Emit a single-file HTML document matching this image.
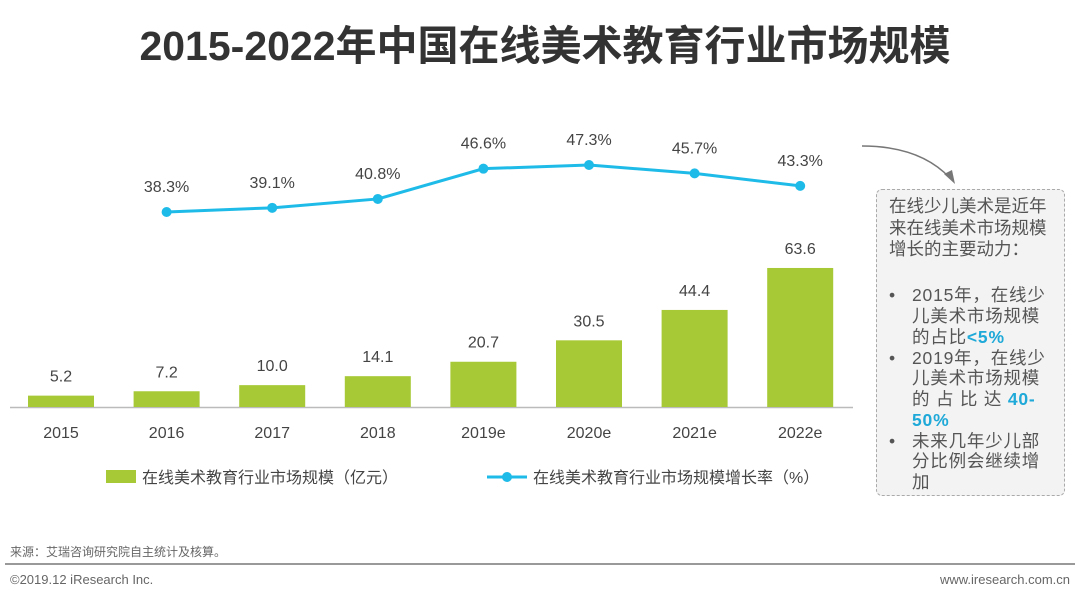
<!DOCTYPE html>
<html><head><meta charset="utf-8"><style>
body{margin:0;width:1080px;height:600px;background:#fff;font-family:"Liberation Sans","Noto Sans CJK SC",sans-serif;position:relative;overflow:hidden}
.t{position:absolute}
.row{display:flex;white-space:nowrap;line-height:20.8px;letter-spacing:0.8px}
.row span:first-child{width:23px}
</style></head><body>
<div class="t" style="left:0;width:1090px;top:12px;text-align:center;font-size:41px;font-weight:bold;color:#333;font-family:'Liberation Sans','Noto Sans CJK SC',sans-serif">2015-2022年中国在线美术教育行业市场规模</div>
<svg id="c" width="1080" height="600" style="position:absolute;left:0;top:0"></svg>
<div class="t" style="left:876px;top:189px;width:175px;height:295px;border:1px dashed #aaa;border-radius:6px;background:#f3f3f3;padding:6px 0 4px 12px;font-size:17.5px;line-height:21.7px;color:#555;white-space:nowrap">
<div>在线少儿美术是近年<br>来在线美术市场规模<br>增长的主要动力：</div>
<div style="height:24px"></div>
<div class="row"><span>•</span><span>2015年，在线少<br>儿美术市场规模<br>的占比<b style="color:#1fa9d8">&lt;5%</b></span></div>
<div class="row"><span>•</span><span>2019年，在线少<br>儿美术市场规模<br>的 占 比 达 <b style="color:#1fa9d8">40-</b><br><b style="color:#1fa9d8">50%</b></span></div>
<div class="row"><span>•</span><span>未来几年少儿部<br>分比例会继续增<br>加</span></div>
</div>
<div class="t" style="left:10px;top:543px;font-size:12px;color:#666">来源：艾瑞咨询研究院自主统计及核算。</div>
<div class="t" style="left:5px;top:563px;width:1070px;height:2px;background:#999"></div>
<div class="t" style="left:10px;top:572px;font-size:13px;color:#666">©2019.12 iResearch Inc.</div>
<div class="t" style="right:10px;top:572px;font-size:13px;color:#666">www.iresearch.com.cn</div>
<script>
const categories=["2015","2016","2017","2018","2019e","2020e","2021e","2022e"];
const barValues=[5.2,7.2,10.0,14.1,20.7,30.5,44.4,63.6];
const rateValues=[null,38.3,39.1,40.8,46.6,47.3,45.7,43.3];
const svg=document.getElementById('c');const NS='http://www.w3.org/2000/svg';
function mk(t,a,p){const e=document.createElementNS(NS,t);for(const k in a)e.setAttribute(k,a[k]);(p||svg).appendChild(e);return e;}
const x=i=>61+i*105.6, yb=v=>407-v*2.186, yl=v=>212-(v-38.3)*5.22;
let ax=mk('line',{x1:10,x2:853,y1:407.5,y2:407.5,stroke:'#bbb','stroke-width':1.5});

categories.forEach((c,i)=>{
 const b=mk('rect',{x:x(i)-33,y:yb(barValues[i]),width:66,height:407-yb(barValues[i]),fill:'#a6c935'});
 
 const v=mk('text',{x:x(i),y:yb(barValues[i])-14,'text-anchor':'middle','font-size':16,fill:'#444'});v.textContent=barValues[i].toFixed(1);
 
 const l=mk('text',{x:x(i),y:438,'text-anchor':'middle','font-size':16,fill:'#444'});l.textContent=c;
 
});
const pts=[];rateValues.forEach((v,i)=>{if(v!=null)pts.push([x(i),yl(v),v]);});
const pl=mk('polyline',{points:pts.map(p=>p[0]+','+p[1]).join(' '),fill:'none',stroke:'#1fbbe8','stroke-width':3});

pts.forEach(p=>{const c=mk('circle',{cx:p[0],cy:p[1],r:5,fill:'#1fbbe8'});
 
 const t=mk('text',{x:p[0],y:p[1]-20,'text-anchor':'middle','font-size':16,fill:'#444'});t.textContent=p[2].toFixed(1)+'%';
 });
const lg=mk('g',{});
mk('rect',{x:106,y:470,width:30,height:13,fill:'#a6c935'},lg);
const t1=mk('text',{x:142,y:483,'font-size':16,fill:'#444'},lg);t1.textContent='在线美术教育行业市场规模（亿元）';
mk('line',{x1:487,x2:527,y1:477,y2:477,stroke:'#1fbbe8','stroke-width':3},lg);
mk('circle',{cx:507,cy:477,r:5,fill:'#1fbbe8'},lg);
const t2=mk('text',{x:533,y:483,'font-size':16,fill:'#444'},lg);t2.textContent='在线美术教育行业市场规模增长率（%）';
const ar=mk('path',{d:'M862,146 Q920,146 950,178',fill:'none',stroke:'#777','stroke-width':1.5});

mk('path',{d:'M944,174 L955,184 L952,170 Z',fill:'#777'});
</script>
</body></html>
